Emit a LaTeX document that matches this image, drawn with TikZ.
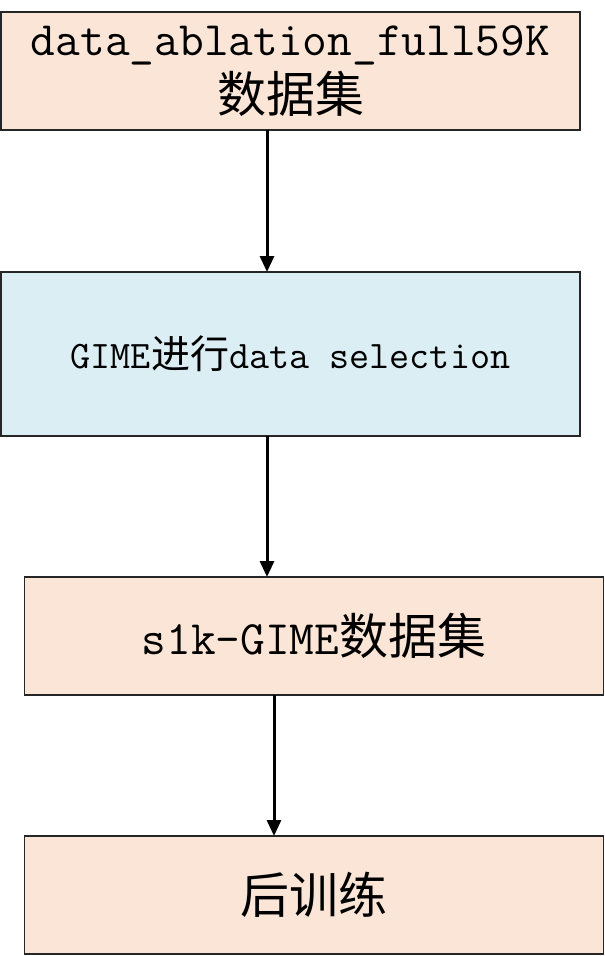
\documentclass[tikz,border=0pt]{standalone}
\usepackage{fontspec}
\usepackage{tikz}
\usetikzlibrary{arrows.meta, positioning}
\newfontfamily\cjk{Noto Sans CJK SC}
\definecolor{peach}{HTML}{FBE5D6}
\definecolor{paleblue}{HTML}{DAEEF3}

\begin{document}
\begin{tikzpicture}[->, >={Triangle[length=16pt,width=14pt]}, line width = 3pt,
node distance = 141pt,
stage/.style={rectangle, draw=black!85, line width=1.3pt, fill=peach,
  minimum width=579pt, minimum height=118pt, inner sep=0pt, outer sep=0pt,
  align=center, font=\ttfamily\fontsize{48}{57}\selectfont}]

\useasboundingbox (0,0) rectangle (605pt,-956pt);

\node [stage] (full) at (290.5pt,-71pt) {data\_ablation\_full59K\\{\cjk\fontsize{49}{57}\selectfont 数据集}};
\node [stage, fill=paleblue, minimum height=164pt, font=\ttfamily\fontsize{39}{46}\selectfont] (select) [below=142pt of full] {GIME{\cjk 进行}data selection};
\draw ([xshift=-23.5pt]full.south) -- ([xshift=-23.5pt]select.north);

\node [stage] (sub) [below=of select, xshift=23.5pt] {s1k-GIME{\cjk\fontsize{49}{57}\selectfont 数据集}};
\draw ([xshift=-23.5pt]select.south) -- ([xshift=-47pt]sub.north);

\node [stage] (train) [below=of sub] {{\cjk\fontsize{49}{57}\selectfont 后训练}};
\draw ([xshift=-40pt]sub.south) -- ([xshift=-40pt]train.north);

\end{tikzpicture}
\end{document}
